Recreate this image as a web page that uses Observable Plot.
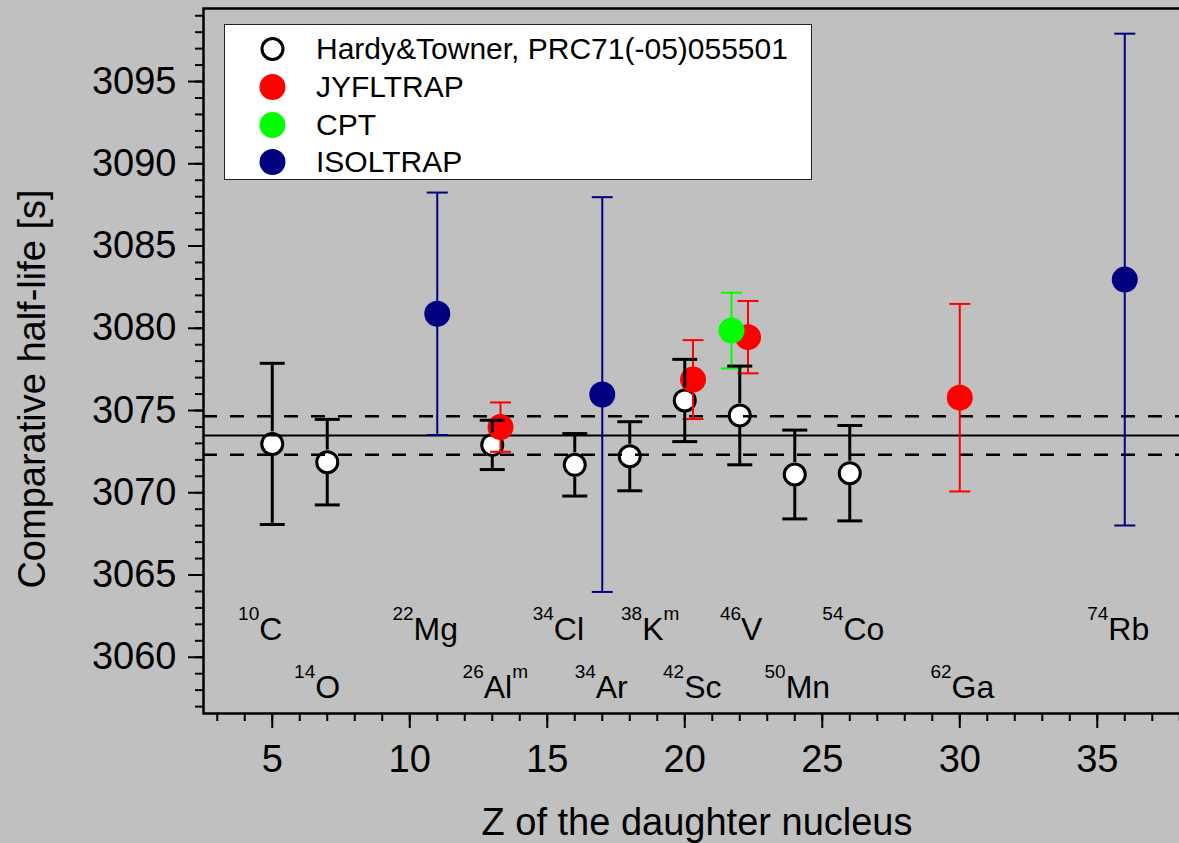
<!DOCTYPE html>
<html><head><meta charset="utf-8">
<script src="https://cdn.jsdelivr.net/npm/d3@7"></script>
<script src="https://cdn.jsdelivr.net/npm/@observablehq/plot@0.6"></script>
<style>
html,body{margin:0;padding:0;background:#c0c0c0;overflow:hidden;width:1179px;height:843px}
#wrap{position:relative;width:1190px;height:843px}
#legend{position:absolute;left:224px;top:24px;width:588px;height:156px;background:#fff;border:1.5px solid #222;box-sizing:border-box;font-family:"Liberation Sans",Arial,Helvetica,sans-serif;font-size:30px;color:#000}
.row{position:absolute;left:0;width:580px;height:36px;line-height:36px;white-space:nowrap}
.row svg{position:absolute;left:32px;top:3px}
.row span{position:absolute;left:91px;top:0}
</style></head><body>
<div id="wrap"><div id="chart"></div><div id="legend"></div></div>
<script>
const FONT = '"Liberation Sans", Arial, Helvetica, sans-serif';

// Hardy & Towner (open circles)
const hardyZ   = [5, 7, 13, 16, 18, 20, 22, 24, 26];
const hardyFt  = [3072.97, 3071.86, 3072.91, 3071.70, 3072.22, 3075.61, 3074.70, 3071.11, 3071.19];
const hardyErr = [4.9, 2.6, 1.5, 1.9, 2.1, 2.5, 3.0, 2.7, 2.9];

// JYFLTRAP
const jyflZ   = [13.3, 20.3, 22.3, 30];
const jyflFt  = [3073.99, 3076.88, 3079.46, 3075.78];
const jyflErr = [1.5, 2.4, 2.2, 5.7];

// CPT
const cptZ   = [21.7];
const cptFt  = [3079.86];
const cptErr = [2.3];

// ISOLTRAP
const isolZ   = [11, 17, 36];
const isolFt  = [3080.88, 3075.97, 3082.96];
const isolErr = [7.37, 12.0, 14.95];

// average and its uncertainty band
const meanFt = 3073.48;
const bandFt = [3072.31, 3074.65];

// nuclide annotations
const massNumbers = [10, 14, 22, 26, 34, 34, 38, 42, 46, 50, 54, 62, 74];
const elements    = ["C", "O", "Mg", "Al", "Cl", "Ar", "K", "Sc", "V", "Mn", "Co", "Ga", "Rb"];
const isomers     = ["", "", "", "m", "", "", "m", "", "", "", "", "", ""];
const labelZ      = [4.58, 6.65, 10.58, 13.13, 15.42, 16.98, 18.76, 20.29, 22.07, 24.11, 26.15, 30.11, 35.78];
const labelFt     = [3061.02, 3057.49, 3061.02, 3057.49, 3061.02, 3057.49, 3061.02, 3057.49, 3061.02, 3057.49, 3061.02, 3057.49, 3061.02];

// axes
const xMajor = [5, 10, 15, 20, 25, 30, 35];
const xMinor = d3.range(3, 39);
const yMajor = [3060, 3065, 3070, 3075, 3080, 3085, 3090, 3095];
const yMinor = d3.range(3057, 3100);

// legend
const seriesNames  = ["Hardy&Towner, PRC71(-05)055501", "JYFLTRAP", "CPT", "ISOLTRAP"];
const seriesColors = ["#000000", "#ff0000", "#00ff00", "#000080"];

const rows = (z, ft, err) => z.map((d, i) => ({z: d, ft: ft[i], lo: ft[i] - err[i], hi: ft[i] + err[i]}));
const hardy = rows(hardyZ, hardyFt, hardyErr);
const colored = [
  {data: rows(jyflZ, jyflFt, jyflErr), color: seriesColors[1]},
  {data: rows(cptZ, cptFt, cptErr), color: seriesColors[2]},
  {data: rows(isolZ, isolFt, isolErr), color: seriesColors[3]}
];

const capSymbol = {draw(ctx, size) { const w = Math.sqrt(size / Math.PI); ctx.moveTo(-w, 0); ctx.lineTo(w, 0); }};

function nuclideLabels(index, scales) {
  const ns = "http://www.w3.org/2000/svg";
  const g = document.createElementNS(ns, "g");
  g.setAttribute("font-family", FONT);
  g.setAttribute("fill", "#000");
  const tspan = (parent, str, size, dy) => {
    const t = document.createElementNS(ns, "tspan");
    t.setAttribute("font-size", size);
    t.setAttribute("dy", dy);
    t.textContent = str;
    parent.appendChild(t);
  };
  elements.forEach((el, i) => {
    const t = document.createElementNS(ns, "text");
    t.setAttribute("x", scales.x(labelZ[i]));
    t.setAttribute("y", scales.y(labelFt[i]));
    t.setAttribute("text-anchor", "middle");
    t.setAttribute("font-size", 32);
    tspan(t, String(massNumbers[i]), 19, -20);
    tspan(t, el, 32, 20);
    if (isomers[i]) tspan(t, isomers[i], 19, -20);
    g.appendChild(t);
  });
  return g;
}

const marks = [
  Plot.dot(hardy, {x: "z", y: "ft", r: 10.5, fill: "white", stroke: "black", strokeWidth: 3}),
  Plot.ruleY([meanFt], {stroke: "black", strokeWidth: 2.2}),
  Plot.ruleY(bandFt, {stroke: "black", strokeWidth: 2.5, strokeDasharray: "14,13"})
];
for (const s of colored) {
  marks.push(
    Plot.ruleX(s.data, {x: "z", y1: "hi", y2: "lo", stroke: s.color, strokeWidth: 2}),
    Plot.dot(s.data, {x: "z", y: "hi", symbol: capSymbol, r: 10.5, fill: "none", stroke: s.color, strokeWidth: 2}),
    Plot.dot(s.data, {x: "z", y: "lo", symbol: capSymbol, r: 10.5, fill: "none", stroke: s.color, strokeWidth: 2}),
    Plot.dot(s.data, {x: "z", y: "ft", r: 13, fill: s.color, stroke: "none"})
  );
}
marks.push(
  Plot.ruleX(hardy, {x: "z", y1: "hi", y2: "ft", insetBottom: 12, stroke: "black", strokeWidth: 3}),
  Plot.ruleX(hardy, {x: "z", y1: "ft", y2: "lo", insetTop: 12, stroke: "black", strokeWidth: 3}),
  Plot.dot(hardy, {x: "z", y: "hi", symbol: capSymbol, r: 12.5, fill: "none", stroke: "black", strokeWidth: 3}),
  Plot.dot(hardy, {x: "z", y: "lo", symbol: capSymbol, r: 12.5, fill: "none", stroke: "black", strokeWidth: 3}),
  nuclideLabels,
  Plot.axisY(yMajor, {anchor: "left", tickSize: 15, tickPadding: 12, fontSize: 38, strokeWidth: 2, tickFormat: d3.format("d"), label: null}),
  Plot.axisY(yMinor, {anchor: "left", tickSize: 8, strokeWidth: 2, tickFormat: () => "", label: null}),
  Plot.axisX(xMajor, {anchor: "bottom", tickSize: 15, tickPadding: 17, fontSize: 38, strokeWidth: 2, tickFormat: d3.format("d"), label: null}),
  Plot.axisX(xMinor, {anchor: "bottom", tickSize: 8, strokeWidth: 2, tickFormat: () => "", label: null}),
  Plot.text(["Comparative half-life [s]"], {frameAnchor: "left", rotate: -90, dx: -159, dy: 28, fontSize: 38, lineAnchor: "bottom", textAnchor: "middle", fill: "black"}),
  Plot.text(["Z of the daughter nucleus"], {frameAnchor: "bottom", dy: 121, fontSize: 38, lineAnchor: "bottom", textAnchor: "middle", fill: "black"}),
  Plot.frame({stroke: "black", strokeWidth: 2.5})
);

const chart = Plot.plot({
  width: 1190, height: 843,
  marginLeft: 203, marginRight: 0, marginTop: 8, marginBottom: 130,
  style: {fontFamily: FONT, background: "transparent", color: "#000"},
  x: {domain: [2.5, 38.39], axis: null, label: null},
  y: {domain: [3056.58, 3099.44], axis: null, label: null},
  marks
});
document.getElementById("chart").appendChild(chart);

// legend
const legend = document.getElementById("legend");
const rowCenters = [23.8, 61.8, 99.5, 136.8];
seriesNames.forEach((name, i) => {
  const row = document.createElement("div");
  row.className = "row";
  row.style.top = (rowCenters[i] - 18) + "px";
  const open = i === 0;
  row.innerHTML = `<svg width="31" height="30" viewBox="-15.5 -15 31 30"><circle r="${open ? 10.5 : 13}" fill="${open ? "#fff" : seriesColors[i]}" stroke="${open ? "#000" : "none"}" stroke-width="3"/></svg><span>${name.replace("&", "&amp;")}</span>`;
  legend.appendChild(row);
});
</script></body></html>
